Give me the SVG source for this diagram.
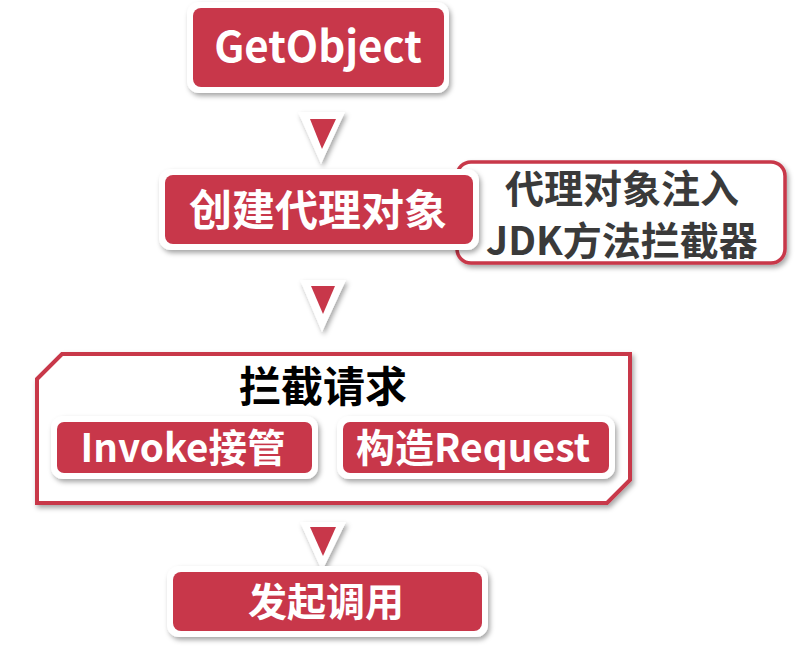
<svg xmlns="http://www.w3.org/2000/svg" width="807" height="656" viewBox="0 0 807 656">
<defs>
<filter id="sh" x="-20%" y="-20%" width="140%" height="150%">
<feDropShadow dx="2" dy="3" stdDeviation="2.5" flood-color="#000" flood-opacity="0.35"/>
</filter>
<style>
.outer{fill:#fff;filter:url(#sh)}
.red{fill:#C8374A}
.wt{fill:#fff;font-family:"Noto Sans CJK SC","Microsoft YaHei",sans-serif;font-weight:bold;text-anchor:middle}
.dk{fill:#3a3a3a;font-family:"Noto Sans CJK SC","Microsoft YaHei",sans-serif;font-weight:bold;text-anchor:middle}
.bk{fill:#000;font-family:"Noto Sans CJK SC","Microsoft YaHei",sans-serif;font-weight:bold;text-anchor:middle}
.stem{stroke:#fff;stroke-width:5;filter:url(#sh)}
.tri{fill:#fff;filter:url(#sh)}
</style>
</defs>
<rect width="807" height="656" fill="#fff"/>

<g id="connectors">
<g>
<line class="stem" x1="322" y1="104" x2="322" y2="114"/>
<polygon class="tri" points="298,112 345,112 321,164"/>
<polygon class="red" points="310,119 336,119 322,149"/>
</g>
<g>
<line class="stem" x1="323" y1="266" x2="323" y2="282"/>
<polygon class="tri" points="300,280 346,280 322,332"/>
<polygon class="red" points="311,286 335,286 323,314"/>
</g>
<g>
<line class="stem" x1="323" y1="506" x2="323" y2="524"/>
<polygon class="tri" points="300,522 346,522 322,571"/>
<polygon class="red" points="310,527 336,527 323,556"/>
</g>
</g>

<g id="getobject">
<rect class="outer" x="187" y="2" width="262" height="91" rx="12"/>
<rect class="red" x="193" y="8" width="251" height="79" rx="8"/>
<text class="wt" x="318" y="62" font-size="42">GetObject</text>
</g>

<g id="inject">
<rect x="457" y="162" width="328" height="101" rx="14" fill="#fff" stroke="#C8374A" stroke-width="3.5" filter="url(#sh)"/>
<text class="dk" x="622" y="203" font-size="39">代理对象注入</text>
<text class="dk" x="622" y="255" font-size="39">JDK方法拦截器</text>
</g>

<g id="create-proxy">
<rect class="outer" x="159" y="169" width="320" height="81" rx="12"/>
<rect class="red" x="165" y="175" width="308" height="69" rx="8"/>
<text class="wt" x="318" y="226" font-size="43">创建代理对象</text>
</g>

<g id="intercept">
<polygon points="37,379 62,354 630,354 630,480 607,503 37,503" fill="#fff" stroke="#C8374A" stroke-width="4" filter="url(#sh)"/>
<text class="bk" x="323" y="402" font-size="42">拦截请求</text>
</g>

<g id="invoke">
<rect class="outer" x="51" y="416" width="267" height="63" rx="12"/>
<rect class="red" x="57" y="422" width="255" height="51" rx="7"/>
<text class="wt" x="183" y="462" font-size="38.5">Invoke接管</text>
</g>

<g id="build-request">
<rect class="outer" x="337" y="416" width="278" height="63" rx="12"/>
<rect class="red" x="343" y="422" width="266" height="51" rx="7"/>
<text class="wt" x="473" y="462" font-size="39">构造Request</text>
</g>

<g id="invoke-call">
<rect class="outer" x="167" y="566" width="321" height="71" rx="12"/>
<rect class="red" x="173" y="572" width="309" height="59" rx="8"/>
<text class="wt" x="326" y="616" font-size="39">发起调用</text>
</g>
</svg>
